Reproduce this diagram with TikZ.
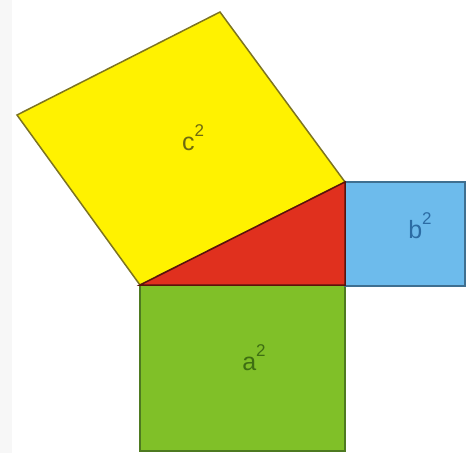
\documentclass[tikz,border=0pt]{standalone}
\usepackage{fontspec}
\setmainfont{Liberation Sans}
\usepackage{xcolor}
\definecolor{sqyellow}{HTML}{FFF200}
\definecolor{sqred}{HTML}{E0301E}
\definecolor{sqblue}{HTML}{6DBBEC}
\definecolor{sqgreen}{HTML}{80C028}
\definecolor{edgeyellow}{HTML}{7D7420}
\definecolor{edgegreen}{HTML}{4E7A20}
\definecolor{edgeblue}{HTML}{3F6F90}
\definecolor{txtyellow}{HTML}{6E6A10}
\definecolor{txtgreen}{HTML}{3E6E12}
\definecolor{txtblue}{HTML}{2C6CA4}
\newcommand{\sqsup}{\raisebox{0.55em}{\fontsize{17}{18}\selectfont 2}}

\begin{document}
\begin{tikzpicture}[x=1pt,y=-1pt,
    sq/.style={line width=1.5pt, line join=miter},
    lab/.style={font=\fontsize{25}{28}\selectfont, inner sep=0pt}]
    \useasboundingbox (0,0) rectangle (467,453);
    \fill[white] (0,0) rectangle (467,453);
    \fill[black!3] (0,0) rectangle (12,453);

    % Corners of the right triangle
    \coordinate (A) at (140,285);
    \coordinate (B) at (345,285);
    \coordinate (C) at (345,182);

    % Square on a (below)
    \filldraw[sq, fill=sqgreen, draw=edgegreen] (A) rectangle (345,451);
    \node[lab, text=txtgreen] (asq) at (254,358) {a\sqsup};

    % Square on b (right)
    \filldraw[sq, fill=sqblue, draw=edgeblue] (C) rectangle (465,286);
    \node[lab, text=txtblue] (bsq) at (420,226) {b\sqsup};

    % Square on c (hypotenuse)
    \filldraw[sq, fill=sqyellow, draw=edgeyellow]
        (A) -- (C) -- (220,12) -- (17,115) -- cycle;
    \node[lab, text=txtyellow] (csq) at (193,138) {c\sqsup};

    % Triangle
    \filldraw[sq, fill=sqred, draw=black!60!sqred] (A) -- (B) -- (C) -- cycle;
\end{tikzpicture}
\end{document}
